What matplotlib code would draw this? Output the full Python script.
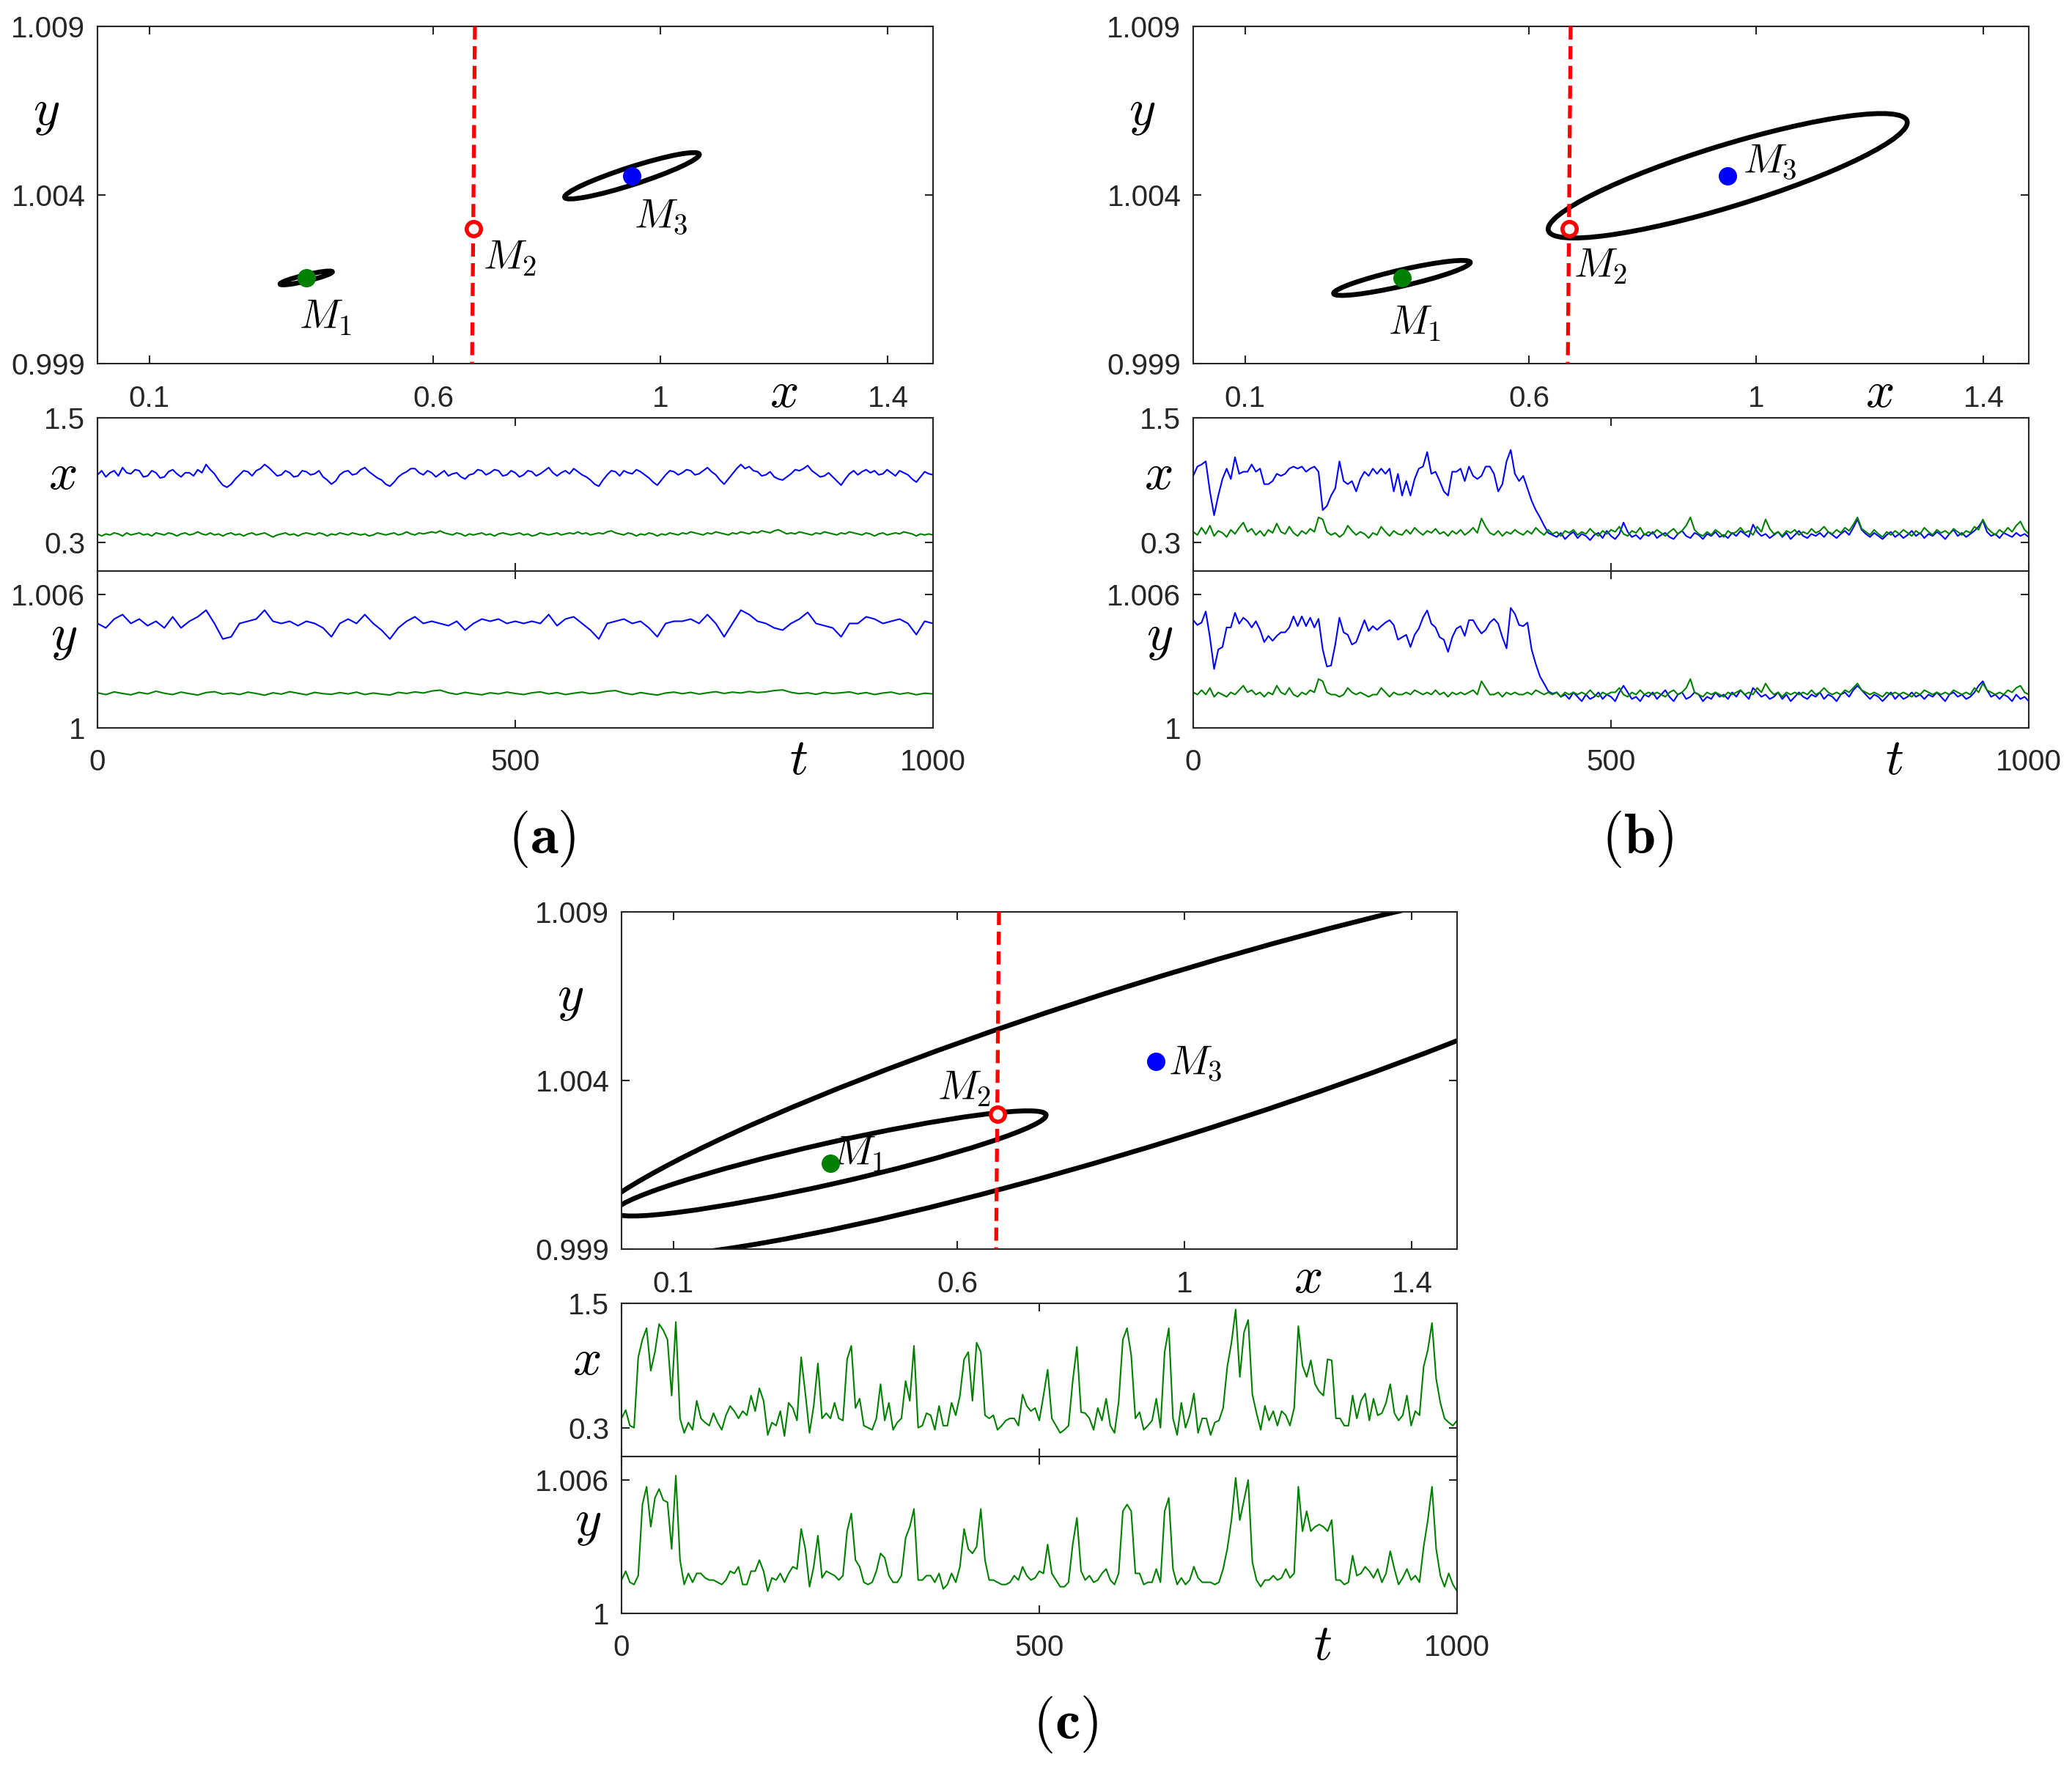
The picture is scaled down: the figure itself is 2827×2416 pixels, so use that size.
import numpy as np
import matplotlib
matplotlib.use("Agg")
import matplotlib.pyplot as plt
from matplotlib.patches import Circle
from matplotlib.transforms import Affine2D

plt.rcParams['font.family'] = ['Liberation Sans', 'DejaVu Sans']
plt.rcParams['mathtext.fontset'] = 'cm'

# equilibria in the (x, y) plane
M1 = (0.376, 1.00154)
M2 = (0.670, 1.00299)
M3 = (0.9495, 1.00457)
SEP_X = [0.673, 0.668]
SEP_Y = [1.009, 0.999]

# confidence ellipses: centre, semi-axes (in x units), tilt in degrees
ELL_A = [(M1, 0.0472, 0.0055, 13.3), (M3, 0.1244, 0.0155, 17.8)]
ELL_B = [(M1, 0.1233, 0.0142, 12.9), (M3, 0.3301, 0.0542, 17.0)]
ELL_C = [(M1, 0.3894, 0.0361, 12.7), (M3, 1.0703, 0.1406, 17.3)]

# label positions of M1, M2, M3
MLAB_A = [(0.410, 1.00036), (0.735, 1.00211), (1.000, 1.00335)]
MLAB_B = [(0.398, 1.00017), (0.725, 1.00188), (1.024, 1.00498)]
MLAB_C = [(0.425, 1.00180), (0.612, 1.00375), (1.019, 1.00450)]

# ---- time series, panel (a) ----
A_X_BLUE = [0.95, 0.99, 0.93, 0.97, 0.99, 0.94, 1.02, 0.97, 0.96, 1.00, 0.99,
            0.93, 0.94, 0.99, 0.97, 0.92, 0.93, 0.98, 1.00, 0.96, 0.93,
            0.97, 0.97, 0.94, 1.00, 0.97, 1.05, 1.00, 0.96, 0.90, 0.85,
            0.83, 0.86, 0.91, 0.95, 0.99, 0.98, 0.94, 0.99, 1.01, 1.05,
            1.02, 0.98, 0.94, 0.95, 0.99, 0.97, 0.93, 0.94, 0.99, 0.98,
            0.95, 0.96, 0.99, 0.93, 0.90, 0.86, 0.89, 0.95, 0.98, 0.99,
            0.95, 0.96, 1.00, 1.02, 0.98, 0.95, 0.92, 0.90, 0.86, 0.84,
            0.88, 0.93, 0.96, 0.98, 1.01, 1.01, 0.97, 0.95, 0.99, 0.97,
            0.93, 0.96, 0.99, 0.94, 0.96, 0.97, 0.93, 0.91, 0.95, 0.96,
            1.00, 0.99, 0.95, 0.97, 1.00, 0.99, 0.94, 0.95, 0.99, 0.97,
            0.93, 0.95, 0.99, 0.98, 0.94, 0.96, 0.99, 1.02, 0.97, 0.94,
            0.97, 0.99, 0.96, 1.01, 0.98, 0.95, 0.93, 0.90, 0.86, 0.84,
            0.90, 0.95, 0.99, 0.98, 0.94, 0.99, 0.97, 0.96, 1.00, 0.98,
            0.95, 0.92, 0.88, 0.85, 0.90, 0.95, 0.99, 0.98, 0.95, 0.97,
            1.00, 0.99, 0.95, 0.96, 0.99, 1.02, 0.98, 0.95, 0.90, 0.86,
            0.91, 0.96, 1.01, 1.05, 1.01, 1.03, 0.99, 0.98, 0.94, 0.95,
            0.98, 0.93, 0.91, 0.90, 0.93, 0.96, 1.00, 0.99, 1.01, 1.04,
            0.99, 0.96, 0.93, 0.94, 0.97, 0.93, 0.89, 0.85, 0.91, 0.96,
            0.99, 0.95, 0.98, 1.00, 0.97, 0.99, 0.95, 0.96, 1.00, 0.97,
            0.94, 0.99, 0.97, 0.95, 0.91, 0.88, 0.93, 0.98, 0.96, 0.95]
A_X_GREEN = [0.38, 0.36, 0.38, 0.37, 0.39, 0.38, 0.36, 0.39, 0.37, 0.38, 0.39,
             0.37, 0.38, 0.36, 0.39, 0.38, 0.37, 0.39, 0.38, 0.36, 0.38,
             0.39, 0.37, 0.38, 0.40, 0.38, 0.37, 0.39, 0.37, 0.38, 0.36,
             0.38, 0.39, 0.37, 0.38, 0.36, 0.38, 0.39, 0.37, 0.38, 0.39,
             0.37, 0.35, 0.37, 0.38, 0.39, 0.37, 0.38, 0.36, 0.38, 0.39,
             0.38, 0.37, 0.39, 0.38, 0.36, 0.38, 0.37, 0.39, 0.38, 0.37,
             0.39, 0.38, 0.37, 0.38, 0.36, 0.37, 0.39, 0.38, 0.37, 0.38,
             0.39, 0.37, 0.38, 0.40, 0.38, 0.37, 0.39, 0.38, 0.39, 0.40,
             0.39, 0.41, 0.39, 0.38, 0.37, 0.39, 0.38, 0.36, 0.38, 0.37,
             0.38, 0.39, 0.37, 0.38, 0.36, 0.38, 0.39, 0.38, 0.37, 0.38,
             0.39, 0.37, 0.38, 0.36, 0.37, 0.39, 0.38, 0.37, 0.38, 0.39,
             0.37, 0.38, 0.39, 0.38, 0.40, 0.38, 0.39, 0.37, 0.38, 0.39,
             0.38, 0.40, 0.41, 0.39, 0.38, 0.37, 0.39, 0.38, 0.36, 0.38,
             0.37, 0.39, 0.38, 0.36, 0.38, 0.37, 0.39, 0.38, 0.37, 0.39,
             0.38, 0.40, 0.39, 0.38, 0.37, 0.39, 0.38, 0.40, 0.39, 0.38,
             0.37, 0.39, 0.38, 0.40, 0.39, 0.38, 0.40, 0.39, 0.41, 0.40,
             0.39, 0.41, 0.42, 0.40, 0.38, 0.39, 0.38, 0.40, 0.39, 0.38,
             0.37, 0.39, 0.38, 0.40, 0.39, 0.38, 0.37, 0.39, 0.38, 0.40,
             0.39, 0.38, 0.37, 0.39, 0.38, 0.36, 0.38, 0.39, 0.37, 0.38,
             0.39, 0.38, 0.40, 0.39, 0.38, 0.36, 0.38, 0.37, 0.38, 0.37]
A_Y_BLUE = [1.0047, 1.0045, 1.0049, 1.0051, 1.0047, 1.0049, 1.0046, 1.0048, 1.0045, 1.0050,
            1.0045, 1.0048, 1.0050, 1.0053, 1.0047, 1.0040, 1.0041, 1.0047, 1.0048, 1.0049,
            1.0053, 1.0048, 1.0047, 1.0048, 1.0046, 1.0048, 1.0047, 1.0045, 1.0041, 1.0047,
            1.0049, 1.0047, 1.0051, 1.0047, 1.0044, 1.0040, 1.0045, 1.0048, 1.0050, 1.0047,
            1.0048, 1.0047, 1.0046, 1.0048, 1.0044, 1.0047, 1.0049, 1.0048, 1.0049, 1.0047,
            1.0048, 1.0047, 1.0048, 1.0047, 1.0051, 1.0046, 1.0049, 1.0050, 1.0047, 1.0044,
            1.0040, 1.0047, 1.0048, 1.0049, 1.0047, 1.0048, 1.0045, 1.0041, 1.0047, 1.0048,
            1.0048, 1.0049, 1.0047, 1.0051, 1.0047, 1.0041, 1.0047, 1.0053, 1.0051, 1.0048,
            1.0047, 1.0045, 1.0044, 1.0047, 1.0049, 1.0052, 1.0047, 1.0046, 1.0045, 1.0041,
            1.0047, 1.0047, 1.0050, 1.0049, 1.0047, 1.0048, 1.0049, 1.0047, 1.0042, 1.0048,
            1.0047]
A_Y_GREEN = [1.00158, 1.00150, 1.00162, 1.00155, 1.00149, 1.00160, 1.00153, 1.00165, 1.00156, 1.00150,
             1.00161, 1.00154, 1.00148, 1.00159, 1.00163, 1.00152, 1.00157, 1.00150, 1.00161, 1.00155,
             1.00147, 1.00158, 1.00152, 1.00163, 1.00156, 1.00149, 1.00160, 1.00154, 1.00151, 1.00159,
             1.00153, 1.00161, 1.00150, 1.00157, 1.00152, 1.00148, 1.00160, 1.00155, 1.00162, 1.00157,
             1.00166, 1.00170, 1.00158, 1.00151, 1.00160, 1.00154, 1.00149, 1.00158, 1.00153, 1.00161,
             1.00155, 1.00150, 1.00158, 1.00162, 1.00153, 1.00159, 1.00150, 1.00156, 1.00161, 1.00154,
             1.00158, 1.00165, 1.00168, 1.00157, 1.00150, 1.00159, 1.00153, 1.00148, 1.00157, 1.00161,
             1.00154, 1.00160, 1.00152, 1.00158, 1.00163, 1.00155, 1.00161, 1.00157, 1.00164, 1.00159,
             1.00162, 1.00168, 1.00171, 1.00160, 1.00154, 1.00158, 1.00151, 1.00160, 1.00155, 1.00158,
             1.00162, 1.00153, 1.00159, 1.00150, 1.00157, 1.00161, 1.00152, 1.00158, 1.00149, 1.00156,
             1.00153]

# ---- time series, panel (b) ----
B_X_BLUE = [0.94, 1.03, 1.05, 1.08, 0.79, 0.56, 0.75, 0.91, 1.01, 0.91,
            1.12, 0.96, 0.98, 0.98, 1.05, 0.98, 1.01, 0.86, 0.86, 0.89,
            0.96, 0.94, 0.96, 1.01, 1.03, 1.01, 1.03, 0.98, 1.01, 1.03,
            0.98, 0.61, 0.65, 0.75, 0.82, 1.08, 0.89, 0.86, 0.89, 0.79,
            0.91, 0.98, 0.94, 1.01, 0.96, 1.01, 0.96, 1.01, 0.79, 0.96,
            0.75, 0.89, 0.75, 0.91, 1.01, 1.03, 1.17, 0.96, 0.98, 0.89,
            0.79, 0.75, 0.98, 0.98, 1.01, 0.89, 1.03, 0.94, 0.91, 0.94,
            1.03, 1.03, 0.96, 0.79, 0.86, 1.08, 1.19, 0.96, 0.89, 0.94,
            0.82, 0.70, 0.61, 0.54, 0.46, 0.39, 0.37,
            0.35, 0.39, 0.33, 0.37, 0.40, 0.34, 0.38, 0.36, 0.32, 0.37,
            0.39, 0.34, 0.41, 0.36, 0.33, 0.38, 0.49, 0.40, 0.35, 0.37,
            0.33, 0.38, 0.36, 0.40, 0.34, 0.37, 0.39, 0.35, 0.33, 0.38,
            0.41, 0.36, 0.34, 0.39, 0.37, 0.33, 0.38, 0.36, 0.40, 0.35,
            0.37, 0.34, 0.39, 0.36, 0.41, 0.38, 0.35, 0.47, 0.40, 0.36,
            0.38, 0.34, 0.37, 0.40, 0.35, 0.39, 0.33, 0.37, 0.41, 0.36,
            0.34, 0.38, 0.36, 0.39, 0.35, 0.40, 0.37, 0.34, 0.38, 0.41,
            0.37, 0.44, 0.52, 0.42, 0.38, 0.35, 0.39, 0.36, 0.33, 0.37,
            0.40, 0.35, 0.38, 0.34, 0.37, 0.41, 0.36, 0.39, 0.34, 0.38,
            0.36, 0.40, 0.37, 0.33, 0.38, 0.42, 0.36, 0.39, 0.35, 0.38,
            0.41, 0.45, 0.51, 0.40, 0.36, 0.38, 0.34, 0.39, 0.37, 0.35,
            0.39, 0.36, 0.38, 0.35]
B_X_GREEN = [0.40, 0.37, 0.44, 0.38, 0.46, 0.36, 0.41, 0.39, 0.35, 0.42, 0.38,
             0.44, 0.49, 0.40, 0.43, 0.37, 0.41, 0.36, 0.42, 0.39, 0.48,
             0.40, 0.38, 0.45, 0.39, 0.36, 0.41, 0.38, 0.43, 0.40, 0.54,
             0.52, 0.40, 0.37, 0.39, 0.35, 0.38, 0.46, 0.41, 0.37, 0.40,
             0.38, 0.34, 0.39, 0.37, 0.45, 0.40, 0.36, 0.41, 0.38, 0.37,
             0.42, 0.38, 0.44, 0.40, 0.37, 0.41, 0.39, 0.43, 0.38, 0.40,
             0.36, 0.41, 0.38, 0.42, 0.37, 0.40, 0.44, 0.39, 0.53, 0.45,
             0.39, 0.37, 0.41, 0.36, 0.40, 0.38, 0.42, 0.39, 0.37, 0.41,
             0.38, 0.44, 0.40, 0.37, 0.42, 0.38, 0.40, 0.36, 0.41, 0.39,
             0.42, 0.37, 0.40, 0.38, 0.43, 0.39, 0.36, 0.41, 0.38, 0.42,
             0.40, 0.45, 0.38, 0.36, 0.41, 0.39, 0.44, 0.37, 0.40, 0.38,
             0.42, 0.39, 0.36, 0.40, 0.43, 0.38, 0.41, 0.46, 0.54, 0.42,
             0.38, 0.36, 0.40, 0.37, 0.42, 0.39, 0.35, 0.41, 0.38, 0.40,
             0.44, 0.39, 0.41, 0.37, 0.45, 0.40, 0.52, 0.43, 0.38, 0.40,
             0.36, 0.41, 0.39, 0.42, 0.37, 0.40, 0.38, 0.43, 0.39, 0.41,
             0.45, 0.40, 0.38, 0.42, 0.39, 0.44, 0.41, 0.47, 0.54, 0.43,
             0.40, 0.37, 0.42, 0.38, 0.35, 0.40, 0.37, 0.41, 0.38, 0.42,
             0.39, 0.36, 0.41, 0.38, 0.44, 0.40, 0.37, 0.42, 0.39, 0.41,
             0.38, 0.43, 0.40, 0.37, 0.41, 0.39, 0.45, 0.42, 0.52, 0.44,
             0.40, 0.37, 0.42, 0.39, 0.44, 0.40, 0.46, 0.50, 0.42, 0.38]
B_Y_BLUE = [1.00485, 1.00463, 1.00474, 1.00524, 1.00408, 1.00265, 1.00353, 1.00364, 1.00452, 1.00452,
            1.00518, 1.00469, 1.00496, 1.00480, 1.00452, 1.00480, 1.00441, 1.00386, 1.00414, 1.00392,
            1.00414, 1.00430, 1.00430, 1.00452, 1.00502, 1.00458, 1.00502, 1.00458, 1.00496, 1.00452,
            1.00491, 1.00353, 1.00276, 1.00281, 1.00375, 1.00496, 1.00430, 1.00419, 1.00375, 1.00386,
            1.00436, 1.00485, 1.00436, 1.00458, 1.00441, 1.00458, 1.00474, 1.00485, 1.00463, 1.00397,
            1.00408, 1.00419, 1.00364, 1.00419, 1.00447, 1.00496, 1.00529, 1.00469, 1.00452, 1.00408,
            1.00397, 1.00342, 1.00408, 1.00447, 1.00458, 1.00414, 1.00485, 1.00485, 1.00452, 1.00425,
            1.00441, 1.00474, 1.00491, 1.00469, 1.00408, 1.00358, 1.00540, 1.00513, 1.00463, 1.00458,
            1.00474, 1.00353, 1.00287, 1.00232, 1.00199, 1.00165, 1.00154,
            1.0016, 1.0014, 1.0015, 1.0013, 1.0016, 1.0014, 1.0012, 1.0015, 1.0013, 1.0014,
            1.0016, 1.0013, 1.0015, 1.0014, 1.0012, 1.0016, 1.0019, 1.0016, 1.0013, 1.0014,
            1.0012, 1.0015, 1.0014, 1.0016, 1.0013, 1.0015, 1.0017, 1.0014, 1.0012, 1.0015,
            1.0016, 1.0013, 1.0014, 1.0016, 1.0015, 1.0012, 1.0014, 1.0013, 1.0016, 1.0014,
            1.0015, 1.0013, 1.0016, 1.0014, 1.0017, 1.0015, 1.0013, 1.0018, 1.0016, 1.0014,
            1.0015, 1.0013, 1.0014, 1.0016, 1.0013, 1.0015, 1.0012, 1.0014, 1.0016, 1.0014,
            1.0013, 1.0015, 1.0014, 1.0016, 1.0013, 1.0015, 1.0014, 1.0012, 1.0015, 1.0016,
            1.0014, 1.0017, 1.0019, 1.0017, 1.0015, 1.0013, 1.0015, 1.0014, 1.0012, 1.0014,
            1.0016, 1.0013, 1.0015, 1.0013, 1.0014, 1.0016, 1.0014, 1.0015, 1.0013, 1.0015,
            1.0014, 1.0016, 1.0014, 1.0012, 1.0015, 1.0016, 1.0014, 1.0015, 1.0013, 1.0014,
            1.0016, 1.0019, 1.0021, 1.0017, 1.0014, 1.0015, 1.0013, 1.0015, 1.0014, 1.0012,
            1.0015, 1.0013, 1.0014, 1.0012]
B_Y_GREEN = [1.0016, 1.0015, 1.0017, 1.0015, 1.0018, 1.0014, 1.0016, 1.0015, 1.0014, 1.0016, 1.0015,
             1.0017, 1.0019, 1.0016, 1.0017, 1.0015, 1.0016, 1.0014, 1.0016, 1.0015, 1.0019,
             1.0016, 1.0015, 1.0018, 1.0015, 1.0014, 1.0016, 1.0015, 1.0017, 1.0016, 1.0022,
             1.0021, 1.0016, 1.0015, 1.0015, 1.0014, 1.0015, 1.0018, 1.0016, 1.0015, 1.0016,
             1.0015, 1.0014, 1.0015, 1.0015, 1.0018, 1.0016, 1.0014, 1.0016, 1.0015, 1.0015,
             1.0016, 1.0015, 1.0017, 1.0016, 1.0015, 1.0016, 1.0015, 1.0017, 1.0015, 1.0016,
             1.0014, 1.0016, 1.0015, 1.0016, 1.0015, 1.0016, 1.0017, 1.0015, 1.0021, 1.0018,
             1.0015, 1.0015, 1.0016, 1.0014, 1.0016, 1.0015, 1.0016, 1.0015, 1.0015, 1.0016,
             1.0015, 1.0017, 1.0016, 1.0015, 1.0016, 1.0015, 1.0016, 1.0014, 1.0016, 1.0015,
             1.0016, 1.0015, 1.0016, 1.0015, 1.0017, 1.0015, 1.0014, 1.0016, 1.0015, 1.0016,
             1.0016, 1.0018, 1.0015, 1.0014, 1.0016, 1.0015, 1.0017, 1.0015, 1.0016, 1.0015,
             1.0016, 1.0015, 1.0014, 1.0016, 1.0017, 1.0015, 1.0016, 1.0018, 1.0022, 1.0016,
             1.0015, 1.0014, 1.0016, 1.0015, 1.0016, 1.0015, 1.0014, 1.0016, 1.0015, 1.0016,
             1.0017, 1.0015, 1.0016, 1.0015, 1.0018, 1.0016, 1.0020, 1.0017, 1.0015, 1.0016,
             1.0014, 1.0016, 1.0015, 1.0016, 1.0015, 1.0016, 1.0015, 1.0017, 1.0015, 1.0016,
             1.0018, 1.0016, 1.0015, 1.0016, 1.0015, 1.0017, 1.0016, 1.0018, 1.0020, 1.0017,
             1.0016, 1.0015, 1.0016, 1.0015, 1.0014, 1.0016, 1.0015, 1.0016, 1.0015, 1.0016,
             1.0015, 1.0014, 1.0016, 1.0015, 1.0017, 1.0016, 1.0015, 1.0016, 1.0015, 1.0016,
             1.0015, 1.0017, 1.0016, 1.0015, 1.0016, 1.0015, 1.0018, 1.0016, 1.0020, 1.0017,
             1.0016, 1.0015, 1.0016, 1.0015, 1.0017, 1.0016, 1.0018, 1.0019, 1.0016, 1.0015]

# ---- time series, panel (c) ----
C_X = [0.39, 0.47, 0.32, 0.30, 0.98, 1.15, 1.26, 0.85, 1.03, 1.30, 1.24,
       1.15, 0.61, 1.32, 0.39, 0.25, 0.35, 0.28, 0.56, 0.39, 0.35,
       0.32, 0.44, 0.35, 0.28, 0.42, 0.51, 0.46, 0.39, 0.46, 0.42,
       0.61, 0.46, 0.68, 0.56, 0.23, 0.35, 0.32, 0.46, 0.22, 0.54,
       0.49, 0.37, 0.98, 0.63, 0.25, 0.51, 0.92, 0.39, 0.44, 0.39,
       0.54, 0.39, 0.37, 0.96, 1.09, 0.49, 0.58, 0.32, 0.30, 0.28,
       0.39, 0.72, 0.37, 0.54, 0.28, 0.35, 0.39, 0.75, 0.56, 1.09,
       0.30, 0.32, 0.44, 0.42, 0.28, 0.51, 0.32, 0.32, 0.54, 0.42,
       0.61, 0.96, 1.03, 0.56, 1.12, 1.03, 0.42, 0.39, 0.42, 0.28,
       0.32, 0.37, 0.39, 0.39, 0.32, 0.62, 0.51, 0.46, 0.49, 0.37,
       0.61, 0.86, 0.39, 0.32, 0.25, 0.28, 0.32, 0.75, 1.08, 0.45,
       0.44, 0.39, 0.28, 0.49, 0.37, 0.58, 0.32, 0.25, 0.55, 1.15,
       1.26, 1.00, 0.39, 0.45, 0.28, 0.32, 0.37, 0.58, 0.30, 1.03,
       1.26, 0.39, 0.23, 0.54, 0.30, 0.42, 0.63, 0.25, 0.39, 0.39,
       0.23, 0.35, 0.37, 0.49, 0.89, 1.12, 1.44, 0.79, 1.22, 1.34,
       0.62, 0.44, 0.28, 0.51, 0.37, 0.46, 0.32, 0.46, 0.42, 0.32,
       0.49, 1.28, 0.90, 0.79, 0.95, 0.72, 0.65, 0.61, 0.96, 0.95,
       0.39, 0.39, 0.32, 0.32, 0.61, 0.39, 0.56, 0.63, 0.37, 0.58,
       0.42, 0.44, 0.54, 0.72, 0.44, 0.37, 0.42, 0.61, 0.32, 0.46,
       0.42, 0.89, 1.05, 1.31, 0.77, 0.54, 0.39, 0.35, 0.32, 0.37]
C_Y = [1.0015, 1.0019, 1.0014, 1.0013, 1.0017, 1.0049, 1.0057, 1.0039, 1.0052, 1.0056, 1.0051,
       1.0050, 1.0029, 1.0062, 1.0024, 1.0013, 1.0018, 1.0014, 1.0018, 1.0018, 1.0016,
       1.0015, 1.0015, 1.0014, 1.0013, 1.0015, 1.0019, 1.0018, 1.0021, 1.0013, 1.0013,
       1.0019, 1.0019, 1.0024, 1.0019, 1.0010, 1.0016, 1.0015, 1.0018, 1.0014, 1.0018,
       1.0021, 1.0020, 1.0038, 1.0029, 1.0012, 1.0021, 1.0035, 1.0016, 1.0019, 1.0018,
       1.0017, 1.0015, 1.0017, 1.0037, 1.0045, 1.0024, 1.0021, 1.0014, 1.0013, 1.0014,
       1.0019, 1.0027, 1.0025, 1.0017, 1.0014, 1.0014, 1.0017, 1.0034, 1.0039, 1.0047,
       1.0015, 1.0015, 1.0017, 1.0017, 1.0014, 1.0018, 1.0011, 1.0013, 1.0018, 1.0014,
       1.0021, 1.0038, 1.0029, 1.0027, 1.0030, 1.0047, 1.0024, 1.0015, 1.0015, 1.0014,
       1.0013, 1.0013, 1.0014, 1.0017, 1.0015, 1.0021, 1.0017, 1.0015, 1.0016, 1.0019,
       1.0018, 1.0031, 1.0018, 1.0015, 1.0012, 1.0012, 1.0014, 1.0031, 1.0043, 1.0019,
       1.0015, 1.0017, 1.0014, 1.0015, 1.0018, 1.0020, 1.0015, 1.0013, 1.0018, 1.0046,
       1.0049, 1.0046, 1.0018, 1.0018, 1.0013, 1.0014, 1.0014, 1.0020, 1.0014, 1.0046,
       1.0052, 1.0020, 1.0013, 1.0016, 1.0013, 1.0015, 1.0021, 1.0016, 1.0014, 1.0014,
       1.0014, 1.0013, 1.0014, 1.0020, 1.0029, 1.0042, 1.0061, 1.0042, 1.0051, 1.0060,
       1.0023, 1.0015, 1.0012, 1.0015, 1.0015, 1.0017, 1.0015, 1.0016, 1.0020, 1.0016,
       1.0018, 1.0057, 1.0037, 1.0046, 1.0037, 1.0039, 1.0040, 1.0039, 1.0037, 1.0042,
       1.0015, 1.0015, 1.0013, 1.0014, 1.0026, 1.0017, 1.0018, 1.0021, 1.0019, 1.0016,
       1.0020, 1.0014, 1.0018, 1.0028, 1.0020, 1.0013, 1.0016, 1.0020, 1.0015, 1.0017,
       1.0014, 1.0030, 1.0042, 1.0057, 1.0029, 1.0017, 1.0012, 1.0018, 1.0013, 1.0010]

BLUE = (0, 0, 1)
GREEN = (0, 0.5, 0)
GREY = '#262626'

# figure layout in pixels (figure is 2827 x 2416)
W, H = 2827, 2416
AX_W, PH_H, XT_TOP, XT_H, YT_TOP, YT_H = 1140, 460, 534, 209, 743, 214
XLIM = (0.0085, 1.4795)
YLIM = (0.999, 1.009)

fig = plt.figure(figsize=(W / 100, H / 100), dpi=100)


def box(left, top, w, h):
    return [left / W, 1 - (top + h) / H, w / W, h / H]


def style(ax, xpad, ypad):
    for s in ax.spines.values():
        s.set_linewidth(1.5)
        s.set_color(GREY)
    ax.tick_params(direction='in', top=True, right=True, length=8, width=1.5,
                   colors=GREY, labelsize=29)
    ax.tick_params(axis='x', pad=xpad)
    ax.tick_params(axis='y', pad=ypad)


def add_ellipse(ax, centre, a, b, ang, k):
    tr = Affine2D().scale(a, b).rotate_deg(ang).scale(1, k).translate(*centre)
    ax.add_patch(Circle((0, 0), 1, transform=tr + ax.transData, fill=False,
                        ec='k', lw=4.8, zorder=2))


def panel(ox, oy, ellipses, mlabels, xs, ys, letter):
    # phase plane
    ax = fig.add_axes(box(ox, oy, AX_W, PH_H))
    k = (YLIM[1] - YLIM[0]) / (XLIM[1] - XLIM[0]) * AX_W / PH_H
    for c, a, b, ang in ellipses:
        add_ellipse(ax, c, a, b, ang, k)
    ax.plot(SEP_X, SEP_Y, color='r', lw=3.8, dashes=(3.4, 1.7), zorder=3)
    ax.plot(*M1, 'o', color=GREEN, ms=17, zorder=4)
    ax.plot(*M3, 'o', color=BLUE, ms=17, zorder=4)
    ax.plot(*M2, 'o', mfc='w', mec='r', mew=4, ms=14, zorder=5)
    for i, (lx, ly) in enumerate(mlabels):
        ax.text(lx, ly, r'$M_{%d}$' % (i + 1), fontsize=40, ha='center', va='center')
    ax.set_xlim(*XLIM)
    ax.set_ylim(*YLIM)
    ax.set_xticks([0.1, 0.6, 1, 1.4])
    ax.set_xticklabels(['0.1', '0.6', '1', '1.4'])
    ax.set_yticks([0.999, 1.004, 1.009])
    ax.set_yticklabels(['0.999', '1.004', '1.009'])
    style(ax, 21, 12)

    # x(t)
    axx = fig.add_axes(box(ox, oy + XT_TOP, AX_W, XT_H))
    for vals, col in xs:
        axx.plot(np.linspace(0, 1000, len(vals)), vals, color=col, lw=1.5)
    axx.set_xlim(0, 1000)
    axx.set_ylim(0.022, 1.5)
    axx.set_xticks([0, 500, 1000])
    axx.set_yticks([0.3, 1.5])
    axx.set_yticklabels(['0.3', '1.5'])
    style(axx, 20, 12)
    axx.tick_params(labelbottom=False)

    # y(t)
    axy = fig.add_axes(box(ox, oy + YT_TOP, AX_W, YT_H))
    for vals, col in ys:
        axy.plot(np.linspace(0, 1000, len(vals)), vals, color=col, lw=1.5)
    axy.set_xlim(0, 1000)
    axy.set_ylim(1.0, 1.00706)
    axy.set_xticks([0, 500, 1000])
    axy.set_xticklabels(['0', '500', '1000'])
    axy.set_yticks([1.0, 1.006])
    axy.set_yticklabels(['1', '1.006'])
    style(axy, 20, 12)

    def put(dx, dy, s, size):
        fig.text((ox + dx) / W, 1 - (oy + dy) / H, s, fontsize=size,
                 ha='center', va='center')

    put(-70, 119, r'$y$', 50)
    put(936, 501, r'$x$', 50)
    put(-48, 613, r'$x$', 50)
    put(-46, 835, r'$y$', 50)
    put(956, 1002, r'$t$', 50)
    put(606, 1108, r'$\mathbf{(%s)}$' % letter, 56)


panel(133, 36, ELL_A, MLAB_A,
      [(A_X_BLUE, BLUE), (A_X_GREEN, GREEN)],
      [(A_Y_BLUE, BLUE), (A_Y_GREEN, GREEN)], 'a')
panel(1628, 36, ELL_B, MLAB_B,
      [(B_X_BLUE, BLUE), (B_X_GREEN, GREEN)],
      [(B_Y_BLUE, BLUE), (B_Y_GREEN, GREEN)], 'b')
panel(848, 1244, ELL_C, MLAB_C,
      [(C_X, GREEN)],
      [(C_Y, GREEN)], 'c')

fig.savefig('out.png', dpi=100)
